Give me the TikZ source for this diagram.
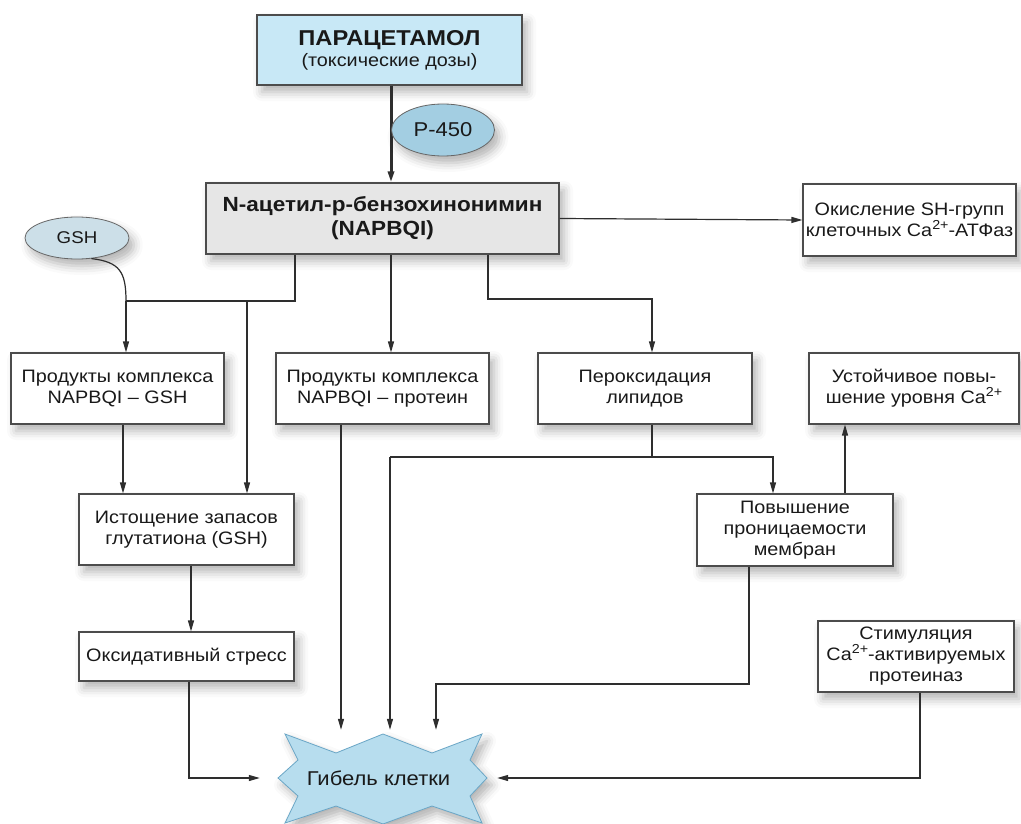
\documentclass[tikz,border=0pt]{standalone}
\usepackage{fontspec}
\setmainfont{Liberation Sans}[FakeStretch=1.1]
\usetikzlibrary{arrows.meta,shapes.geometric,shadows.blur}

\definecolor{paraBlue}{HTML}{C8E8F6}
\definecolor{ovalBlue}{HTML}{A3CEE2}
\definecolor{gshBlue}{HTML}{CCDFE8}
\definecolor{napGray}{HTML}{E6E6E6}
\definecolor{deathBlue}{HTML}{B7DDEE}
\definecolor{deathEdge}{HTML}{6AA6C6}
\definecolor{lineGray}{HTML}{2E2E2E}
\newcommand{\caion}{Ca\raisebox{0.42em}{\fontsize{13}{13}\selectfont 2+}}

\begin{document}
\begin{tikzpicture}[x=1pt,y=-1pt,
  txt/.style={font=\fontsize{18}{21}\selectfont,align=center,text=black!90},
  shade/.style={blur shadow={shadow xshift=5pt,shadow yshift=-7pt,shadow blur radius=9pt,shadow opacity=30}},
  box/.style={txt,draw=black!70,line width=1.1pt,fill=white,inner sep=0pt,shade},
  oval/.style={txt,ellipse,draw=black!60,line width=0.8pt,inner sep=0pt,shade},
  arr/.style={draw=lineGray,line width=1.2pt,-{Triangle[length=11pt,width=6pt]}},
  lin/.style={draw=lineGray,line width=1.2pt}]
  \useasboundingbox (0,0) rectangle (1021,824);

  % top: paracetamol and its metabolite
  \node[box,fill=paraBlue,minimum width=265pt,minimum height=70pt] (para) at (389.5,50)
    {{\fontsize{21.5}{25}\selectfont\bfseries ПАРАЦЕТАМОЛ}\\(токсические дозы)};
  \node[box,fill=napGray,minimum width=353pt,minimum height=71pt,font=\fontsize{20.5}{24}\selectfont\bfseries] (nap) at (382.5,218.5)
    {N-ацетил-р-бензохинонимин\\(NAPBQI)};
  \draw[arr,line width=3pt] (para.south -| 391,0) -- (nap.north -| 391,0);
  \node[oval,fill=ovalBlue,minimum width=103pt,minimum height=52pt,font=\fontsize{20}{24}\selectfont] (p450) at (443,130) {Р-450};
  \node[oval,fill=gshBlue,minimum width=104pt,minimum height=42pt,font=\fontsize{17}{20}\selectfont] (gsh) at (77,238) {GSH};

  % boxes
  \node[box,minimum width=213pt,minimum height=72pt] (sh) at (909.5,220)
    {Окисление SH-групп\\клеточных \caion-АТФаз};
  \node[box,minimum width=213pt,minimum height=71pt] (pgsh) at (117.5,388.5)
    {Продукты комплекса\\NAPBQI – GSH};
  \node[box,minimum width=213pt,minimum height=71pt] (pprot) at (382.5,388.5)
    {Продукты комплекса\\NAPBQI – протеин};
  \node[box,minimum width=214pt,minimum height=71pt] (perox) at (645,388.5)
    {Пероксидация\\липидов};
  \node[box,minimum width=210pt,minimum height=71pt] (ca) at (914,388.5)
    {Устойчивое повы-\\шение уровня \caion};
  \node[box,minimum width=215pt,minimum height=71pt] (depl) at (186.5,529.5)
    {Истощение запасов\\глутатиона (GSH)};
  \node[box,minimum width=196pt,minimum height=72pt] (perm) at (795,530)
    {Повышение\\проницаемости\\мембран};
  \node[box,minimum width=215pt,minimum height=49pt] (ox) at (186.5,656.5)
    {Оксидативный стресс};
  \node[box,minimum width=196pt,minimum height=71pt] (prot) at (916,656.5)
    {Стимуляция\\\caion-активируемых\\протеиназ};

  % cell death star
  \fill[deathBlue,draw=deathEdge,line width=0.8pt,shade]
    (285,734) -- (336,753) -- (383,734) -- (432,753) -- (482,734) -- (470,760)
    -- (487,778) -- (470,796) -- (482,823) -- (432,806) -- (383,824) -- (336,806)
    -- (285,823) -- (298,796) -- (278,778) -- (298,760) -- cycle;
  \node[txt,font=\fontsize{20}{24}\selectfont,minimum width=237pt,minimum height=96pt,inner sep=0pt] (death) at (378.5,778) {Гибель клетки};

  % connectors
  \coordinate (jl) at (295,301);
  \coordinate (jg) at (126,301);
  \coordinate (jd) at (247,301);
  \coordinate (jr) at (488,299);
  \coordinate (jp) at (652,457);
  \coordinate (jq) at (390,457);
  \coordinate (jm) at (749,684);
  \draw[arr] (nap.east) -- (sh.west);
  \draw[lin] (gsh.-55) .. controls (120,262) and (126,272) .. (jg);
  \draw[lin] (nap.south -| jl) -- (jl) -- (jg);
  \draw[arr] (jg) -- (jg |- pgsh.north);
  \draw[arr] (jd) -- (jd |- depl.north);
  \draw[arr] (nap.south -| 391,0) -- (pprot.north -| 391,0);
  \draw[arr] (nap.south -| jr) -- (jr) -| (perox.north -| jp);
  \draw[arr] (pgsh.south -| 123,0) -- (depl.north -| 123,0);
  \draw[arr] (depl.south -| 191,0) -- (ox.north -| 191,0);
  \draw[arr] (ox.south -| 189,0) |- (death.west);
  \draw[arr] (pprot.south -| 341,0) -- (death.north -| 341,0);
  \draw[lin] (perox.south -| jp) -- (jp);
  \draw[arr] (jq) -| (perm.north -| 773,0);
  \draw[arr] (jq) -- (death.north -| jq);
  \draw[arr] (perm.north -| 845,0) -- (ca.south -| 845,0);
  \draw[arr] (perm.south -| jm) -- (jm) -| (death.north -| 436,0);
  \draw[arr] (prot.south -| 920,0) |- (death.east);
\end{tikzpicture}
\end{document}
